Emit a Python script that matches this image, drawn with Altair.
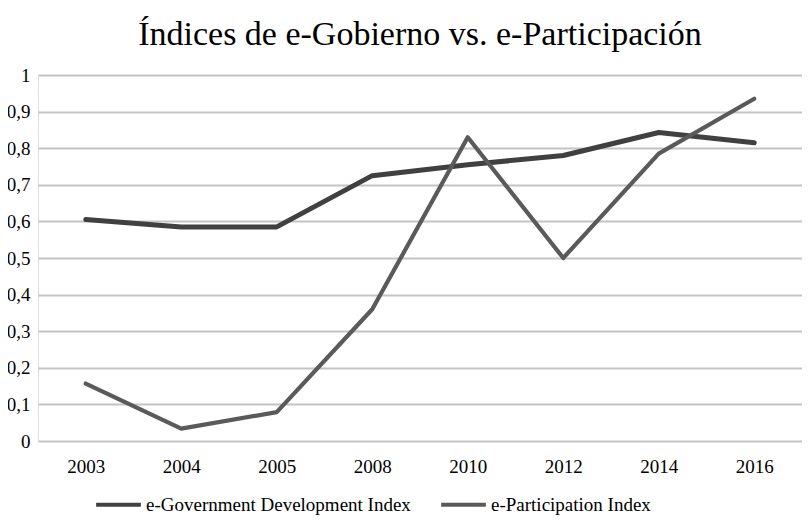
import altair as alt
import pandas as pd

years = ["2003", "2004", "2005", "2008", "2010", "2012", "2014", "2016"]
egov = [0.605, 0.585, 0.585, 0.725, 0.755, 0.780, 0.843, 0.815]
epart = [0.157, 0.034, 0.079, 0.360, 0.830, 0.500, 0.785, 0.935]
series = ["e-Government Development Index", "e-Participation Index"]
colors = ["#404040", "#5a5a5a"]
widths = [5, 4.2]

rows = []
for y, v in zip(years, egov):
    rows.append({"year": y, "value": v, "series": series[0]})
for y, v in zip(years, epart):
    rows.append({"year": y, "value": v, "series": series[1]})
df = pd.DataFrame(rows)

FONT = "Liberation Serif"

x_enc = alt.X("year:O", sort=years, title=None,
              axis=alt.Axis(labelAngle=0, labelFontSize=19, labelFont=FONT, labelColor="#000000",
                            labelPadding=16, ticks=False, domain=False, grid=False))
y_enc = alt.Y("value:Q", title=None,
              scale=alt.Scale(domain=[0, 1], nice=False),
              axis=alt.Axis(values=[i / 10 for i in range(11)],
                            labelExpr="datum.value == 0 ? '0' : (datum.value == 1 ? '1' : replace(format(datum.value, '.1f'), '.', ','))",
                            labelFontSize=19, labelFont=FONT, labelColor="#000000", labelPadding=8,
                            ticks=False, domain=False, grid=True, gridColor="#c4c4c4", gridWidth=2))
c_enc = alt.Color("series:N", sort=series,
                  scale=alt.Scale(domain=series, range=colors),
                  legend=alt.Legend(title=None, orient="none", direction="horizontal",
                                    legendX=56, legendY=405,
                                    symbolType="stroke", symbolSize=2000, symbolStrokeWidth=4,
                                    labelFont=FONT, labelFontSize=19, labelColor="#000000",
                                    labelLimit=0, columnPadding=22, labelOffset=3))

base = alt.Chart(df).encode(x=x_enc, y=y_enc, color=c_enc)
layers = [
    base.transform_filter(alt.datum.series == s).mark_line(strokeWidth=w, strokeCap="round", strokeJoin="round")
    for s, w in zip(series, widths)
]

chart = alt.layer(*layers).properties(
    width=764,
    height=366,
    title=alt.TitleParams("Índices de e-Gobierno vs. e-Participación", font=FONT, fontSize=34,
                          fontWeight="normal", color="#000000", anchor="middle", offset=14),
    autosize=alt.AutoSizeParams(type="none"),
    padding={"left": 30, "top": 67, "right": 0, "bottom": 78},
).configure_view(stroke=None).configure(background="#ffffff", font=FONT).configure_axis(
    labelFont=FONT
).configure_legend(labelFont=FONT)

chart.save("out.html", embed_options={"renderer": "svg", "actions": False})
